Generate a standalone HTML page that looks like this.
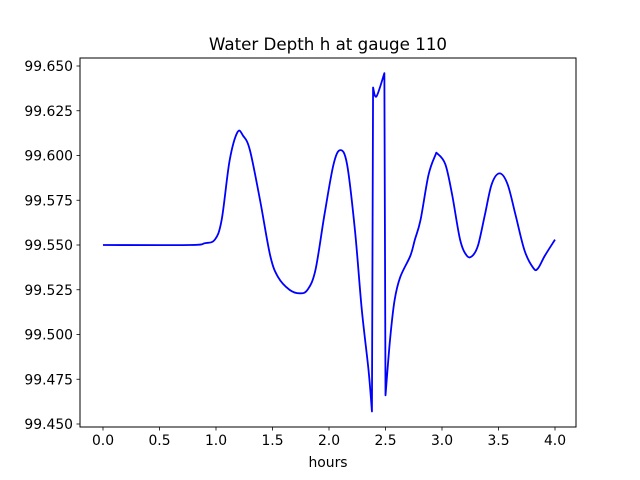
<!DOCTYPE html>
<html><head><meta charset="utf-8"><style>
body{margin:0;background:#fff}
svg{display:block;font-family:"DejaVu Sans","Liberation Sans",sans-serif}
</style></head><body>
<svg id="chart" width="640" height="480" viewBox="0 0 640 480">
<rect x="0" y="0" width="640" height="480" fill="#fff"/>
<text x="328" y="50" font-size="16.7" text-anchor="middle">Water Depth h at gauge 110</text>
<g id="plot"></g>
<rect x="80" y="58" width="496" height="369" fill="none" stroke="#000" stroke-width="1"/>
<text x="328" y="467" font-size="13.9" text-anchor="middle">hours</text>
</svg>
<script>
const hours = [0,0.77,0.90,0.99,1.05,1.12,1.19,1.24,1.30,1.39,1.48,1.55,1.65,1.74,1.81,1.88,1.96,2.04,2.10,2.16,2.23,2.29,2.35,2.38,2.39,2.42,2.49,2.50,2.54,2.58,2.63,2.72,2.76,2.81,2.88,2.94,2.96,3.03,3.09,3.16,3.22,3.27,3.32,3.38,3.44,3.51,3.58,3.65,3.73,3.81,3.85,3.91,4.0];
const depth = [99.550,99.550,99.551,99.553,99.564,99.597,99.613,99.611,99.603,99.575,99.544,99.532,99.525,99.523,99.525,99.536,99.567,99.595,99.603,99.595,99.558,99.514,99.480,99.457,99.638,99.633,99.646,99.466,99.497,99.519,99.532,99.544,99.553,99.564,99.589,99.600,99.601,99.595,99.578,99.553,99.544,99.544,99.550,99.567,99.584,99.590,99.584,99.567,99.547,99.537,99.537,99.544,99.553];
const xTicks = [0,0.5,1,1.5,2,2.5,3,3.5,4];
const xTickLabels = ["0.0","0.5","1.0","1.5","2.0","2.5","3.0","3.5","4.0"];
const yTicks = [99.450,99.475,99.500,99.525,99.550,99.575,99.600,99.625,99.650];
const yTickLabels = ["99.450","99.475","99.500","99.525","99.550","99.575","99.600","99.625","99.650"];

const NS="http://www.w3.org/2000/svg";
const X = h => 103 + (h-0)*(555-103)/4;
const Y = v => 424 - (v-99.450)*(424-66)/0.2;
const g = document.getElementById('plot');
function mk(t,a){const e=document.createElementNS(NS,t);for(const k in a)e.setAttribute(k,a[k]);g.appendChild(e);return e;}
xTicks.forEach((t,i)=>{
  const l=mk('line',{x1:X(t),x2:X(t),y1:427,y2:430.5,stroke:'#000','stroke-width':0.8});
  
  
  const tx=mk('text',{x:X(t),y:445,'font-size':13.9,'text-anchor':'middle'});
  tx.textContent=xTickLabels[i];
  
  
});
yTicks.forEach((t,i)=>{
  const l=mk('line',{x1:76.5,x2:80,y1:Y(t),y2:Y(t),stroke:'#000','stroke-width':0.8});
  
  
  const tx=mk('text',{x:73,y:Y(t)+5,'font-size':13.9,'text-anchor':'end'});
  tx.textContent=yTickLabels[i];
  
  
});
// split into runs at jumps, smooth each with Catmull-Rom
const pts=hours.map((h,i)=>[X(h),Y(depth[i])]);
const runs=[[pts[0]]];
for(let i=1;i<pts.length;i++){
  const dh=hours[i]-hours[i-1], dv=Math.abs(depth[i]-depth[i-1]);
  if(dv/dh>3){runs.push([pts[i]]);} else runs[runs.length-1].push(pts[i]);
}
let d='';
runs.forEach((r,ri)=>{
  d += (ri===0?'M':'L')+r[0][0].toFixed(2)+','+r[0][1].toFixed(2);
  for(let i=0;i<r.length-1;i++){
    const p0=r[Math.max(0,i-1)],p1=r[i],p2=r[i+1],p3=r[Math.min(r.length-1,i+2)];
    const c1=[p1[0]+(p2[0]-p0[0])/6,p1[1]+(p2[1]-p0[1])/6];
    const c2=[p2[0]-(p3[0]-p1[0])/6,p2[1]-(p3[1]-p1[1])/6];
    d+='C'+c1.map(v=>v.toFixed(2)).join(',')+' '+c2.map(v=>v.toFixed(2)).join(',')+' '+p2.map(v=>v.toFixed(2)).join(',');
  }
});
const line=mk('path',{d:d,fill:'none',stroke:'#0000ff','stroke-width':1.8,'stroke-linejoin':'round'});


</script>
</body></html>
